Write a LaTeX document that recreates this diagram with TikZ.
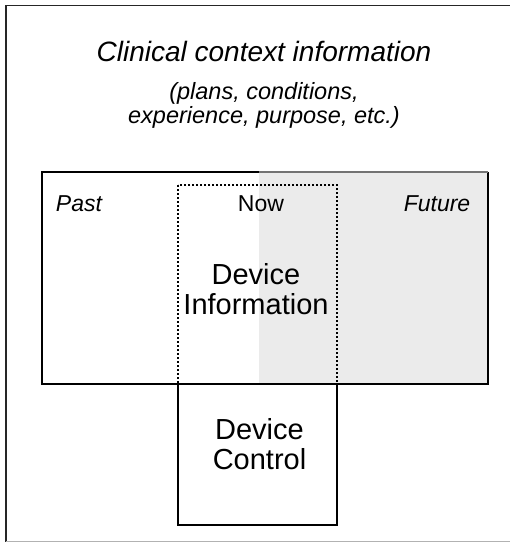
\documentclass[tikz,border=0pt]{standalone}
\usepackage{fontspec}
\setmainfont{Liberation Sans}
\begin{document}
\begin{tikzpicture}[x=1pt,y=-1pt,
  frame/.style={line width=1.8pt,black},
  dotbox/.style={line width=1.6pt,dash pattern=on 1.6pt off 2.4pt,black},
  title/.style={font=\fontsize{28}{30}\selectfont\itshape,anchor=base},
  subtitle/.style={font=\fontsize{23.5}{23.3}\selectfont\itshape,align=center,anchor=base,inner sep=0pt},
  label/.style={font=\fontsize{23}{24}\selectfont,anchor=base,inner sep=0pt},
  bigtext/.style={font=\fontsize{29}{30}\selectfont,align=center,anchor=base,inner sep=0pt}]
\useasboundingbox (0,0) rectangle (510,544);
% corners of the boxes
\coordinate (mainNW) at (42,172);
\coordinate (mainSE) at (488,384);
\coordinate (shadeW) at (259,172);
\coordinate (nowNW) at (178,185);
\coordinate (nowSE) at (337,384);
\coordinate (ctlNW) at (178,384);
\coordinate (ctlSE) at (337,525);
% outer frame
\draw[line width=1.6pt,black!85] (515,5.5) -- (6,5.5) -- (6,541.5);
\draw[line width=1.2pt,black!30] (6,541.5) -- (515,541.5);
% shaded future half
\fill[black!8] (shadeW) rectangle (mainSE);
% time line box
\draw[frame] (shadeW) -- (mainNW) |- (mainSE) -- (488,172);
\draw[line width=1.8pt,black!55] (shadeW) -- (488,172);
% dotted "now" window
\draw[dotbox] (nowNW) rectangle (nowSE);
% device control box
\draw[frame] (ctlNW) rectangle (ctlSE);
% texts (multi-line nodes sit on the baseline of their last line)
\node[title] (ctx) at (264,61.5) {Clinical context information};
\node[subtitle] (ctxsub) at (264,123) {(plans, conditions,\\experience, purpose, etc.)};
\node[label,font=\fontsize{23}{24}\selectfont\itshape] (past) at (79,211.5) {Past};
\node[label] (now) at (261,211.5) {Now};
\node[label,font=\fontsize{23}{24}\selectfont\itshape] (future) at (437,211.5) {Future};
\node[bigtext] (devinfo) at (256,314) {Device\\Information};
\node[bigtext] (devctl) at (259.5,469) {Device\\Control};
\end{tikzpicture}
\end{document}
